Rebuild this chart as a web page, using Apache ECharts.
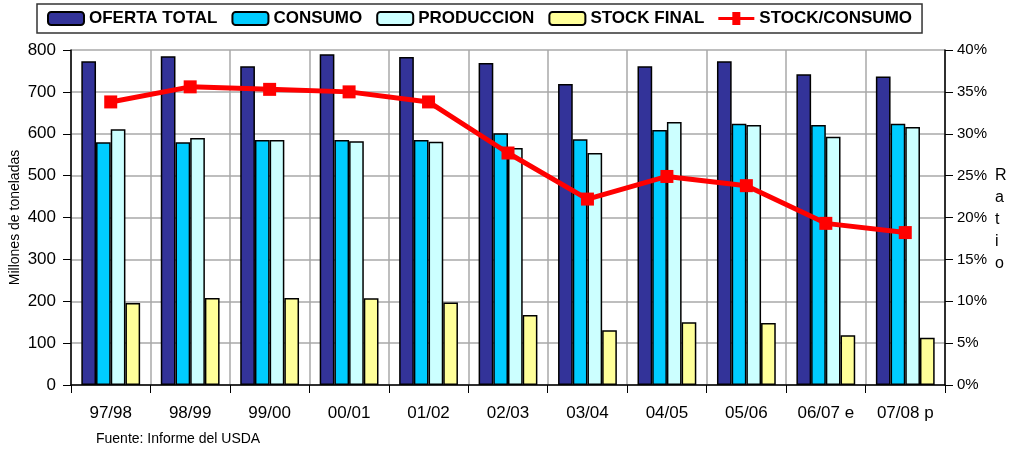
<!DOCTYPE html>
<html>
<head>
<meta charset="utf-8">
<script src="https://cdn.jsdelivr.net/npm/echarts@6/dist/echarts.min.js"></script>
<style>
  html, body { margin: 0; padding: 0; background: #fff; }
  #chart { width: 1012px; height: 453px; }
</style>
</head>
<body>
<div id="chart"></div>
<script>
  'use strict';

  var campanias = ['97/98', '98/99', '99/00', '00/01', '01/02', '02/03', '03/04', '04/05', '05/06', '06/07 e', '07/08 p'];
  var ofertaTotal = [773, 785, 761, 790, 783, 769, 719, 761, 773, 742, 737];
  var consumo = [580, 580, 585, 585, 585, 601, 587, 609, 624, 621, 624];
  var produccion = [611, 590, 585, 582, 581, 566, 554, 628, 621, 593, 616];
  var stockFinal = [196, 208, 208, 207, 197, 167, 131, 150, 148, 119, 113];
  var stockConsumo = [33.8, 35.6, 35.3, 35.0, 33.8, 27.7, 22.2, 24.9, 23.8, 19.3, 18.2];

  var fuente = 'Liberation Sans Narrow, Arial Narrow, Liberation Sans, sans-serif';

  function barra(nombre, datos, color) {
    return {
      name: nombre,
      type: 'bar',
      data: datos,
      barGap: 0,
      barCategoryGap: '26%',
      itemStyle: { color: color, borderColor: '#000', borderWidth: 1.5 }
    };
  }

  var myChart = echarts.init(document.getElementById('chart'));

  myChart.setOption({
    animation: false,
    textStyle: { fontFamily: fuente },
    legend: {
      top: 4,
      left: 37,
      width: 866,
      padding: [6, 10, 6, 10],
      itemGap: 14,
      itemWidth: 36,
      itemHeight: 13,
      borderColor: '#333',
      borderWidth: 1.5,
      textStyle: { fontSize: 17, fontWeight: 'bold', color: '#000', fontFamily: fuente },
      data: [
        { name: 'OFERTA TOTAL' },
        { name: 'CONSUMO' },
        { name: 'PRODUCCION' },
        { name: 'STOCK FINAL' },
        { name: 'STOCK/CONSUMO', icon: 'path://M0,5 L14,5 L14,0 L22,0 L22,5 L36,5 L36,8 L22,8 L22,13 L14,13 L14,8 L0,8 Z', itemStyle: { borderWidth: 0 } }
      ]
    },
    grid: { left: 71, right: 67, top: 50, bottom: 68, outerBoundsMode: 'none' },
    xAxis: {
      type: 'category',
      data: campanias,
      axisLine: { lineStyle: { color: '#000', width: 1.5 } },
      axisTick: { show: true, length: 8, lineStyle: { color: '#000' } },
      axisLabel: { fontSize: 17, color: '#000', margin: 20 },
      splitLine: { show: true, lineStyle: { color: '#a8a8a8', width: 1.5 } }
    },
    yAxis: [
      {
        type: 'value',
        min: 0,
        max: 800,
        interval: 100,
        name: 'Millones de toneladas',
        nameLocation: 'middle',
        nameGap: 49,
        nameMoveOverlap: false,
        nameTextStyle: { fontSize: 14, color: '#000' },
        axisLine: { show: true, lineStyle: { color: '#000', width: 1.5 } },
        axisTick: { show: true, length: 8, lineStyle: { color: '#000' } },
        axisLabel: { fontSize: 17, color: '#000', margin: 15 },
        splitLine: { lineStyle: { color: '#a8a8a8', width: 1.5 } }
      },
      {
        type: 'value',
        min: 0,
        max: 40,
        interval: 5,
        axisLine: { show: true, lineStyle: { color: '#000', width: 1.5 } },
        axisTick: { show: true, length: 8, lineStyle: { color: '#000' } },
        axisLabel: { fontSize: 15, color: '#000', margin: 12, formatter: '{value}%' },
        splitLine: { show: false }
      }
    ],
    graphic: [
      {
        type: 'text',
        left: 995,
        top: 165,
        style: { text: 'R\na\nt\ni\no', fontSize: 16, fill: '#000', align: 'center', lineHeight: 22, fontFamily: fuente }
      },
      {
        type: 'text',
        left: 96,
        top: 432,
        style: { text: 'Fuente: Informe del USDA', fontSize: 14, fill: '#000', fontFamily: fuente }
      }
    ],
    series: [
      barra('OFERTA TOTAL', ofertaTotal, '#333399'),
      barra('CONSUMO', consumo, '#00ccff'),
      barra('PRODUCCION', produccion, '#ccffff'),
      barra('STOCK FINAL', stockFinal, '#ffff99'),
      {
        name: 'STOCK/CONSUMO',
        type: 'line',
        yAxisIndex: 1,
        data: stockConsumo,
        symbol: 'rect',
        symbolSize: 13,
        lineStyle: { color: '#ff0000', width: 5 },
        itemStyle: { color: '#ff0000' },
        z: 5
      }
    ]
  });
</script>
</body>
</html>
